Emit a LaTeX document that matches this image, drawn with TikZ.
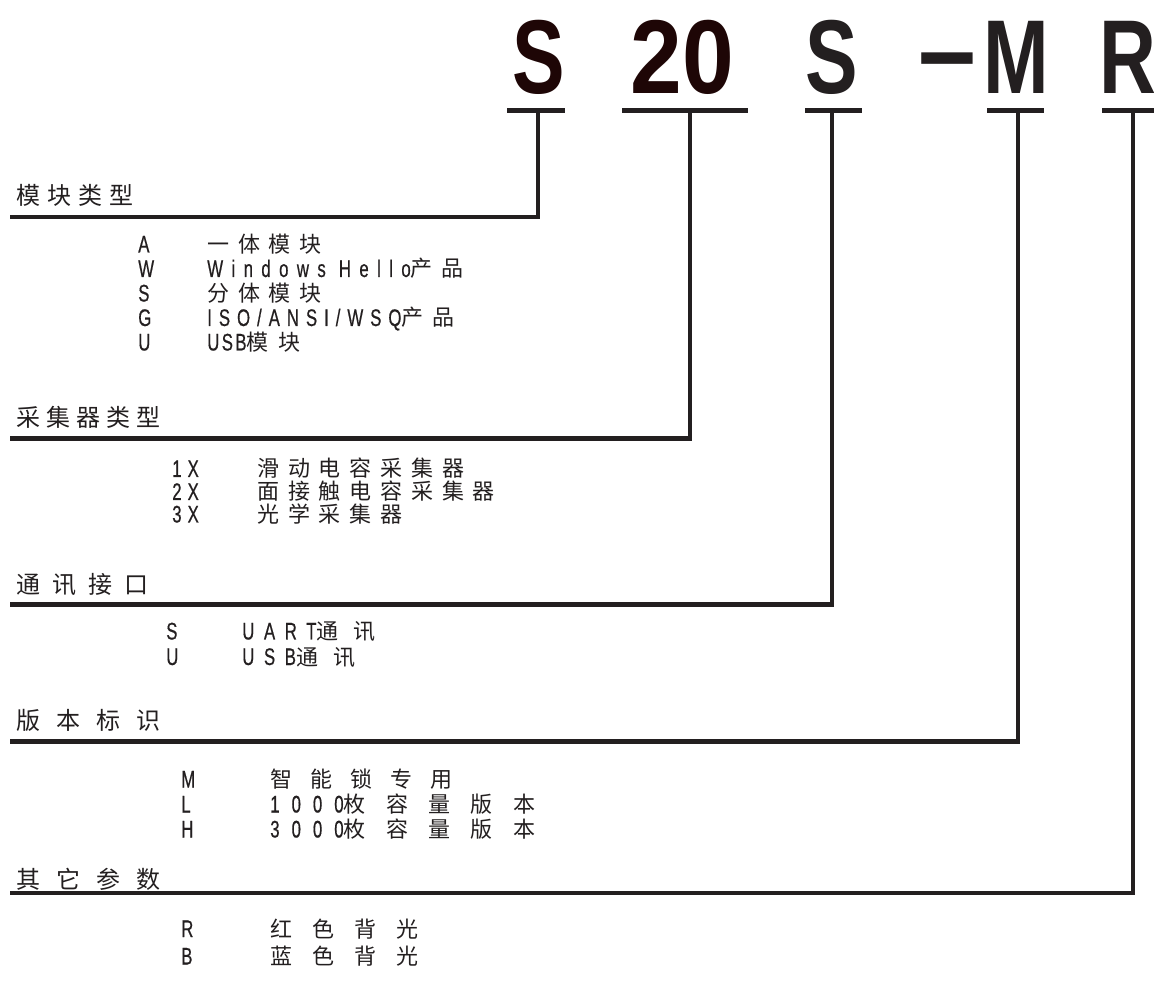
\documentclass[tikz,border=0pt]{standalone}
\usepackage{fontspec}
\setmainfont{Liberation Sans}
\newfontfamily\cjk{Noto Sans CJK SC}
\newfontfamily\lat[FakeStretch=0.7,FakeBold=0.5]{Liberation Sans}
\newfontfamily\bigf[FakeStretch=0.75]{Liberation Sans}
\newcommand\CT[2]{{\cjk\addfontfeature{LetterSpace=#1}#2}}
\newcommand\LT[2]{{\lat\fontsize{18}{20}\selectfont\addfontfeature{LetterSpace=#1}#2}}
\definecolor{ink}{HTML}{231F20}
\definecolor{brn}{HTML}{1E0606}
\tikzset{
  lbl/.style={anchor=base west, inner sep=0pt, text=ink},
  head/.style={lbl, font=\fontsize{18}{20}\selectfont},
  item/.style={lbl, font=\fontsize{16.5}{20}\selectfont},
  code/.style={lbl, font=\fontsize{18}{20}\selectfont\lat},
  bigc/.style={anchor=base, inner sep=0pt, text=ink, font=\fontsize{78.75}{80}\selectfont\bigf\bfseries},
  uline/.style={line width=3.75pt, draw=ink},
  bracket/.style={line width=3.4pt, draw=ink, line join=miter},
}
\begin{document}
\begin{tikzpicture}[x=0.75pt,y=-0.75pt]
\useasboundingbox (0,0) rectangle (1154,987);
% big code
\node[bigc, text=brn] (t1) at (538.5,94) {S};
\node[bigc, text=brn] (t2) at (682.5,94) {\scalebox{1.18}[1]{20}};
\node[bigc] (t3) at (831.5,94) {S};
\node[bigc] (t4) at (947,94) {\scalebox{1.3}[1]{−}};
\node[bigc] (t5) at (1016.5,94) {M};
\node[bigc] (t6) at (1128,94) {R};
% underline coordinates
\coordinate (a1) at (507,111); \coordinate (b1) at (565,111);
\coordinate (a2) at (622,111); \coordinate (b2) at (748,111);
\coordinate (a3) at (805,111); \coordinate (b3) at (862,111);
\coordinate (a4) at (987,111); \coordinate (b4) at (1044,111);
\coordinate (a5) at (1102,111); \coordinate (b5) at (1154,111);
\draw[uline] (a1) -- (b1);
\draw[uline] (a2) -- (b2);
\draw[uline] (a3) -- (b3);
\draw[uline] (a4) -- (b4);
\draw[uline] (a5) -- (b5);
% bracket coordinates
\coordinate (v1) at (538,111); \coordinate (e1) at (10,217);
\coordinate (v2) at (690,111); \coordinate (e2) at (10,438.5);
\coordinate (v3) at (832,111); \coordinate (e3) at (10,604.5);
\coordinate (v4) at (1018,111); \coordinate (e4) at (10,741.5);
\coordinate (v5) at (1133,111); \coordinate (e5) at (10,893);
\draw[bracket] (v1) |- (e1);
\draw[bracket] (v2) |- (e2);
\draw[bracket] (v3) |- (e3);
\draw[bracket] (v4) |- (e4);
\draw[bracket] (v5) |- (e5);
% section 1
\node[head] (h1) at (16,205) {\CT{29}{模块类型}};
\node[code] (c11) at (138,252.5) {A};
\node[code] (c12) at (138,277) {W};
\node[code] (c13) at (138,301.5) {S};
\node[code] (c14) at (138,326) {G};
\node[code] (c15) at (138,350.5) {U};
\node[item] (d11) at (207,252.5) {\CT{40}{一体模块}};
\node[item] (d12) at (207,277) {\LT{35}{Windows Hello}\CT{40}{产品}};
\node[item] (d13) at (207,301.5) {\CT{40}{分体模块}};
\node[item] (d14) at (207,326) {\LT{29}{ISO/ANSI/WSQ}\CT{40}{产品}};
\node[item] (d15) at (207,350.5) {\LT{10}{USB}\CT{45}{模块}};
% section 2
\node[head] (h2) at (16,426.5) {\CT{25}{采集器类型}};
\node[code] (c21) at (172,477) {\addfontfeature{LetterSpace=25}1X};
\node[code] (c22) at (172,500) {\addfontfeature{LetterSpace=25}2X};
\node[code] (c23) at (172,522.5) {\addfontfeature{LetterSpace=25}3X};
\node[item] (d21) at (257,477) {\CT{40}{滑动电容采集器}};
\node[item] (d22) at (257,500) {\CT{40}{面接触电容采集器}};
\node[item] (d23) at (257,522.5) {\CT{40}{光学采集器}};
% section 3
\node[head] (h3) at (16,594) {\CT{50}{通讯接口}};
\node[code] (c31) at (166,639.5) {S};
\node[code] (c32) at (166,665) {U};
\node[item] (d31) at (242,639.5) {\LT{40}{UART}\CT{70}{通讯}};
\node[item] (d32) at (242,665) {\LT{40}{USB}\CT{70}{通讯}};
% section 4
\node[head] (h4) at (16,729) {\CT{67}{版本标识}};
\node[code] (c41) at (181,787.5) {M};
\node[code] (c42) at (181,812.5) {L};
\node[code] (c43) at (181,837.5) {H};
\node[item] (d41) at (270,787.5) {\CT{82}{智能锁专用}};
\node[item] (d42) at (270,812.5) {\LT{50}{1000}\CT{93}{枚容量版本}};
\node[item] (d43) at (270,837.5) {\LT{50}{3000}\CT{93}{枚容量版本}};
% section 5
\node[head] (h5) at (16,888) {\CT{67}{其它参数}};
\node[code] (c51) at (181,937) {R};
\node[code] (c52) at (181,964.5) {B};
\node[item] (d51) at (270,937) {\CT{91}{红色背光}};
\node[item] (d52) at (270,964.5) {\CT{91}{蓝色背光}};
\end{tikzpicture}
\end{document}
